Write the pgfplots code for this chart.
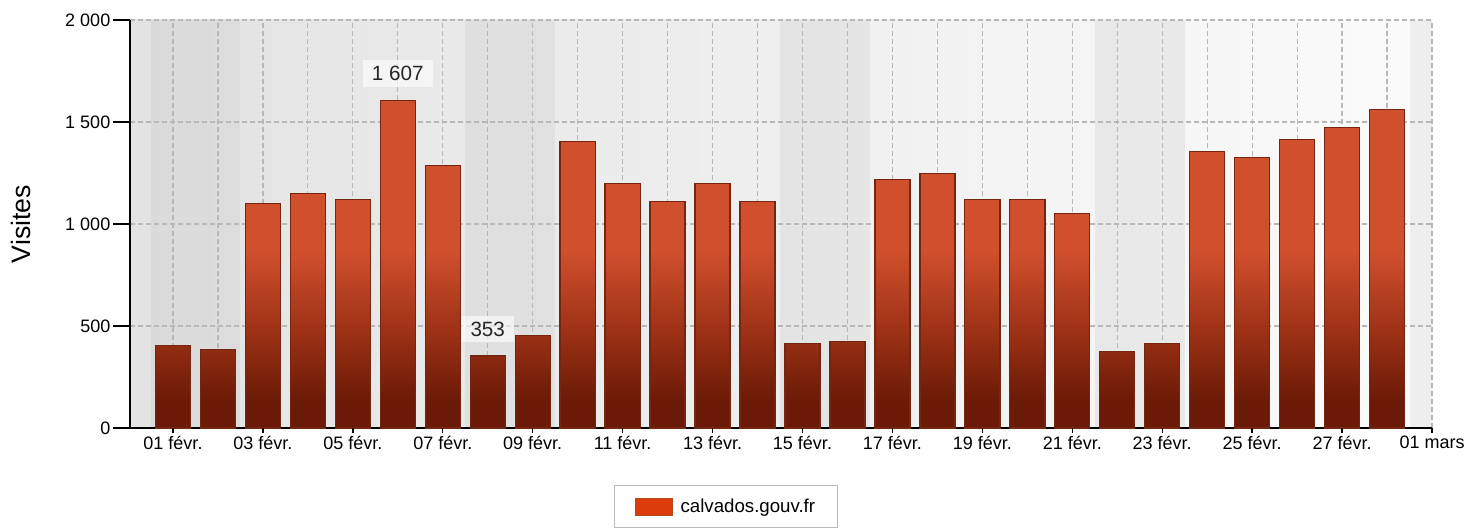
\documentclass[border=0pt]{standalone}
\usepackage{fontspec}
\setmainfont{Liberation Sans}
\usepackage{pgfplots}
\pgfplotsset{compat=1.18}
\usepackage{pgfplotstable}

\definecolor{blight}{HTML}{D04F2D}
\definecolor{bmid}{HTML}{9E3216}
\definecolor{bdark}{HTML}{6A1A06}
\definecolor{bedge}{HTML}{742610}
\definecolor{gridc}{HTML}{B8B8B8}
\definecolor{swatch}{HTML}{DC3C0B}
\definecolor{swatchedge}{HTML}{B04A1C}
\definecolor{bgleft}{HTML}{E3E3E3}
\definecolor{bgright}{HTML}{FBFBFB}

\pgfdeclareverticalshading{barshade}{100bp}{color(0bp)=(bdark); color(25bp)=(bdark); color(29bp)=(bdark); color(40bp)=(bmid); color(52bp)=(blight); color(75bp)=(blight); color(100bp)=(blight)}

\newcommand\tickfont{\fontsize{13.5pt}{16pt}\selectfont}
\newcommand\labfont{\fontsize{15.5pt}{18pt}\selectfont}
\newcommand\ylabfont{\fontsize{20pt}{24pt}\selectfont}
\newcommand\legfont{\fontsize{14pt}{17pt}\selectfont}

\pgfplotstableread{
day visits
1 403
2 384
3 1099
4 1148
5 1121
6 1607
7 1286
8 353
9 452
10 1403
11 1197
12 1109
13 1197
14 1109
15 413
16 423
17 1219
18 1246
19 1121
20 1121
21 1050
22 374
23 413
24 1354
25 1325
26 1413
27 1472
28 1561
}\visits

\begin{document}
\begin{tikzpicture}
\begin{axis}[
  set layers,
  scale only axis, width=976.5pt, height=306pt,
  xmin=0.044, xmax=29, ymin=0, ymax=2000,
  axis x line*=bottom, axis y line*=left,
  axis line style={-, black, line width=1.3pt},
  xtick={1,3,...,29}, minor xtick={2,4,...,28},
  xticklabels={01 févr.,03 févr.,05 févr.,07 févr.,09 févr.,11 févr.,13 févr.,15 févr.,17 févr.,19 févr.,21 févr.,23 févr.,25 févr.,27 févr.,01 mars},
  ytick={0,500,1000,1500,2000},
  yticklabels={0,500,1 000,1 500,2 000},
  major tick length=0pt, minor tick length=0pt,
  tick style={draw=none},
  grid=both,
  major grid style={gridc, dash pattern=on 3.75pt off 2.25pt, line width=0.9pt},
  minor grid style={gridc, dash pattern=on 3.75pt off 2.25pt, line width=0.9pt},
  tick label style={font=\tickfont, text=black},
  /pgf/number format/assume math mode=true,
  x tick label style={yshift=-2.5pt},
  y tick label style={xshift=-11.25pt},
  ylabel={Visites},
  ylabel style={font=\ylabfont, at={(axis description cs:-0.0837,0.5)}, anchor=center},
  clip=false,
  legend style={at={(0.458,-0.1397)}, anchor=north, font=\legfont, draw=gray!55, line width=0.9pt, fill=white, inner xsep=15pt, inner ysep=8pt,
    /tikz/every odd column/.append style={column sep=4pt}},
  legend image code/.code={%
    \pgfpathrectanglecorners{\pgfpoint{0pt}{-6.4pt}}{\pgfpoint{27.75pt}{6.4pt}}%
    \pgfsetfillcolor{swatch}\pgfsetstrokecolor{swatchedge}\pgfsetlinewidth{0.6pt}%
    \pgfusepath{fill,stroke}},
]
\begin{pgfonlayer}{axis background}
  \shade[left color=bgleft, right color=bgright] (axis cs:0.044,0) rectangle (axis cs:29,2000);
  \fill[black, opacity=0.04] (axis cs:0.5,0) rectangle (axis cs:2.5,2000);
  \fill[black, opacity=0.04] (axis cs:7.5,0) rectangle (axis cs:9.5,2000);
  \fill[black, opacity=0.045] (axis cs:14.5,0) rectangle (axis cs:16.5,2000);
  \fill[black, opacity=0.05] (axis cs:21.5,0) rectangle (axis cs:23.5,2000);
  \fill[black, opacity=0.05] (axis cs:28.5,0) rectangle (axis cs:29,2000);
\end{pgfonlayer}
\addplot[ybar, bar width=0.78, shading=barshade, draw=bedge, line width=1pt] table[x=day, y=visits] {\visits};
\addlegendentry{calvados.gouv.fr}
\pgfplotsinvokeforeach{0,500,1000,1500,2000}{
  \draw[black, line width=1.1pt] (axis cs:0.044,#1) -- ++(-12.75pt,0pt);
}
\pgfplotsinvokeforeach{1,3,...,29}{
  \draw[black, line width=1pt] (axis cs:#1,0) -- ++(0pt,-3.75pt);
}
\node[fill=white, fill opacity=0.6, text opacity=1, inner xsep=7pt, inner ysep=0pt, minimum height=19.5pt, font=\labfont, text=black!85] at (axis cs:6,1607) [yshift=20pt] {1 607};
\node[fill=white, fill opacity=0.6, text opacity=1, inner xsep=7pt, inner ysep=0pt, minimum height=19.5pt, font=\labfont, text=black!85] at (axis cs:8,353) [yshift=20pt] {353};
\end{axis}
\path (current axis.south west) ++(-97.5pt,-75pt) coordinate (bbA);
\path (current axis.north east) ++(33.75pt,15pt) coordinate (bbB);
\pgfresetboundingbox
\useasboundingbox (bbA) rectangle (bbB);
\end{tikzpicture}
\end{document}
